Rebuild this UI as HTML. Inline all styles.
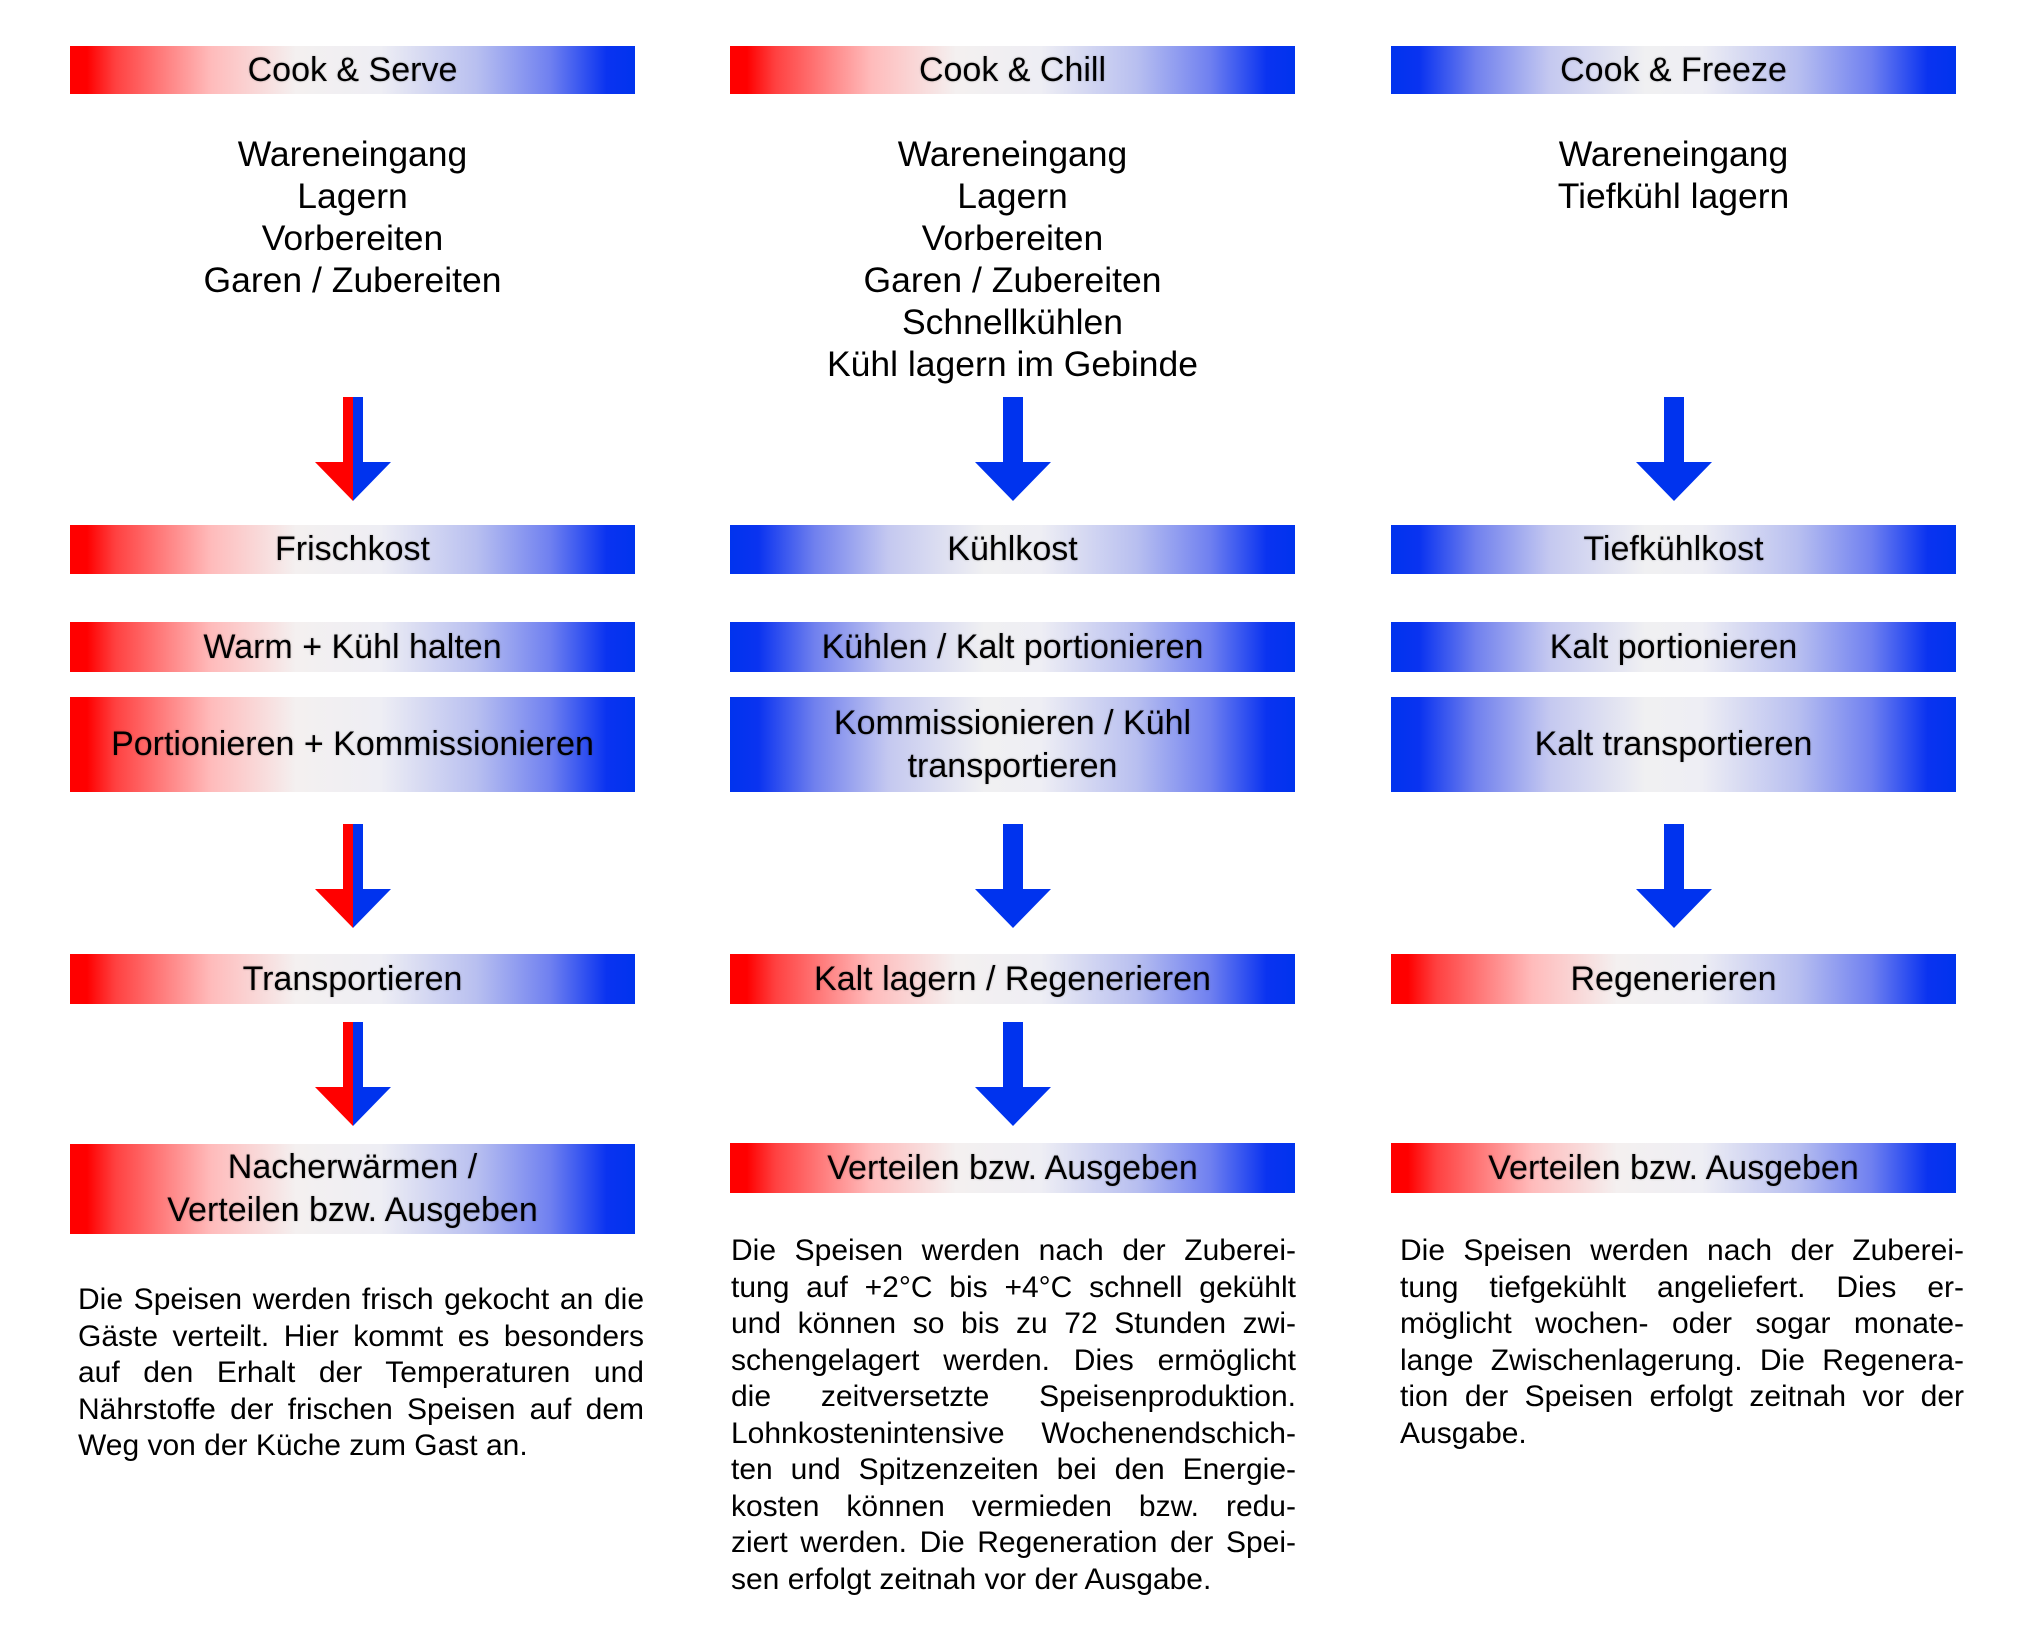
<!DOCTYPE html>
<html><head><meta charset="utf-8"><style>
body{margin:0;width:2040px;height:1644px;background:#fff;position:relative;overflow:hidden;font-family:"Liberation Sans","DejaVu Sans",sans-serif;color:#000}
.b{position:absolute;width:565px;display:flex;align-items:center;justify-content:center;text-align:center;font-size:34px;line-height:43px;text-shadow:0 0 2px rgba(0,0,0,.25)}
.rb{background:linear-gradient(to right,#ff0000 0%,#ff0000 3%,#ff4040 8%,#fbb 25%,#f4f0f0 40%,#eeeef4 55%,#b8bff0 72%,#6f80f0 85%,#0a33f0 95%,#0033ee 100%)}
.bb{background:linear-gradient(to right,#0033ee 0%,#0a33f0 5%,#7080ee 15%,#c4c8f0 28%,#f0f0f2 45%,#eeeef4 55%,#b8bff0 72%,#6f80f0 85%,#0a33f0 95%,#0033ee 100%)}
.c1{left:70px}.c2{left:730px}.c3{left:1391px}
.st{position:absolute;width:565px;text-align:center;font-size:35.5px;line-height:42px}
.p{position:absolute;font-size:30px;line-height:36.5px}
.p div{text-align:justify;text-align-last:justify;white-space:nowrap}
.p div.l{text-align-last:left}
svg{position:absolute}
</style></head><body>

<div class="b rb c1" style="top:46px;height:48px">Cook &amp; Serve</div>
<div class="b rb c2" style="top:46px;height:48px">Cook &amp; Chill</div>
<div class="b bb c3" style="top:46px;height:48px">Cook &amp; Freeze</div>

<div class="st c1" style="top:133px">Wareneingang<br>Lagern<br>Vorbereiten<br>Garen / Zubereiten</div>
<div class="st c2" style="top:133px">Wareneingang<br>Lagern<br>Vorbereiten<br>Garen / Zubereiten<br>Schnellkühlen<br>Kühl lagern im Gebinde</div>
<div class="st c3" style="top:133px">Wareneingang<br>Tiefkühl lagern</div>

<svg style="left:315px;top:397px" width="76" height="105"><polygon points="28,0 38,0 38,104 0,65 28,65" fill="#ff0000"/><polygon points="38,0 48,0 48,65 76,65 38,104" fill="#0033ee"/></svg>
<svg style="left:975px;top:397px" width="76" height="105"><polygon points="28,0 48,0 48,65 76,65 38,104 0,65 28,65" fill="#0033ee"/></svg>
<svg style="left:1636px;top:397px" width="76" height="105"><polygon points="28,0 48,0 48,65 76,65 38,104 0,65 28,65" fill="#0033ee"/></svg>

<div class="b rb c1" style="top:525px;height:49px">Frischkost</div>
<div class="b bb c2" style="top:525px;height:49px">Kühlkost</div>
<div class="b bb c3" style="top:525px;height:49px">Tiefkühlkost</div>

<div class="b rb c1" style="top:622px;height:50px">Warm + Kühl halten</div>
<div class="b bb c2" style="top:622px;height:50px">Kühlen / Kalt portionieren</div>
<div class="b bb c3" style="top:622px;height:50px">Kalt portionieren</div>

<div class="b rb c1" style="top:697px;height:95px">Portionieren + Kommissionieren</div>
<div class="b bb c2" style="top:697px;height:95px">Kommissionieren / Kühl<br>transportieren</div>
<div class="b bb c3" style="top:697px;height:95px">Kalt transportieren</div>

<svg style="left:315px;top:824px" width="76" height="105"><polygon points="28,0 38,0 38,104 0,65 28,65" fill="#ff0000"/><polygon points="38,0 48,0 48,65 76,65 38,104" fill="#0033ee"/></svg>
<svg style="left:975px;top:824px" width="76" height="105"><polygon points="28,0 48,0 48,65 76,65 38,104 0,65 28,65" fill="#0033ee"/></svg>
<svg style="left:1636px;top:824px" width="76" height="105"><polygon points="28,0 48,0 48,65 76,65 38,104 0,65 28,65" fill="#0033ee"/></svg>

<div class="b rb c1" style="top:954px;height:50px">Transportieren</div>
<div class="b rb c2" style="top:954px;height:50px">Kalt lagern / Regenerieren</div>
<div class="b rb c3" style="top:954px;height:50px">Regenerieren</div>

<svg style="left:315px;top:1022px" width="76" height="105"><polygon points="28,0 38,0 38,104 0,65 28,65" fill="#ff0000"/><polygon points="38,0 48,0 48,65 76,65 38,104" fill="#0033ee"/></svg>
<svg style="left:975px;top:1022px" width="76" height="105"><polygon points="28,0 48,0 48,65 76,65 38,104 0,65 28,65" fill="#0033ee"/></svg>

<div class="b rb c1" style="top:1144px;height:90px">Nacherwärmen /<br>Verteilen bzw. Ausgeben</div>
<div class="b rb c2" style="top:1143px;height:50px">Verteilen bzw. Ausgeben</div>
<div class="b rb c3" style="top:1143px;height:50px">Verteilen bzw. Ausgeben</div>

<div class="p" style="left:78px;top:1282px;width:566px">
<div>Die Speisen werden frisch gekocht an die</div>
<div>Gäste verteilt. Hier kommt es besonders</div>
<div>auf den Erhalt der Temperaturen und</div>
<div>Nährstoffe der frischen Speisen auf dem</div>
<div class="l">Weg von der Küche zum Gast an.</div>
</div>

<div class="p" style="left:731px;top:1233px;width:565px">
<div>Die Speisen werden nach der Zuberei-</div>
<div>tung auf +2°C bis +4°C schnell gekühlt</div>
<div>und können so bis zu 72 Stunden zwi-</div>
<div>schengelagert werden. Dies ermöglicht</div>
<div>die zeitversetzte Speisenproduktion.</div>
<div>Lohnkostenintensive Wochenendschich-</div>
<div>ten und Spitzenzeiten bei den Energie-</div>
<div>kosten können vermieden bzw. redu-</div>
<div>ziert werden. Die Regeneration der Spei-</div>
<div class="l">sen erfolgt zeitnah vor der Ausgabe.</div>
</div>

<div class="p" style="left:1400px;top:1233px;width:564px">
<div>Die Speisen werden nach der Zuberei-</div>
<div>tung tiefgekühlt angeliefert. Dies er-</div>
<div>möglicht wochen- oder sogar monate-</div>
<div>lange Zwischenlagerung. Die Regenera-</div>
<div>tion der Speisen erfolgt zeitnah vor der</div>
<div class="l">Ausgabe.</div>
</div>

</body></html>
